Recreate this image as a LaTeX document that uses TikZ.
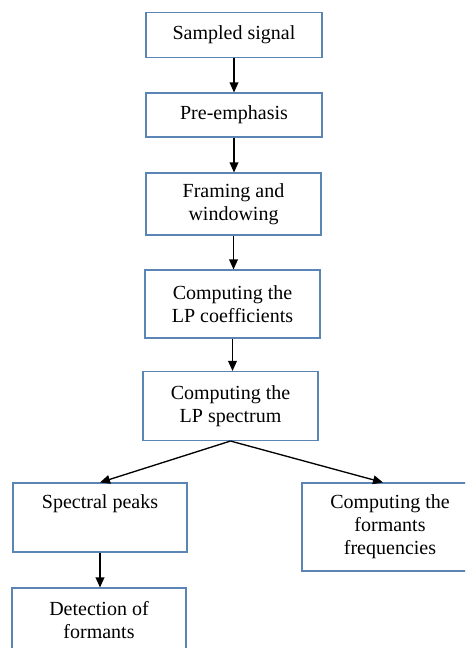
\documentclass[tikz,border=0pt]{standalone}
\usepackage{fontspec}
\setmainfont{Liberation Serif}
\usetikzlibrary{arrows.meta,calc}
\definecolor{boxblue}{HTML}{5B85B5}
\begin{document}
\begin{tikzpicture}[x=0.75pt,y=-0.75pt,
  box/.style={draw=boxblue,line width=0.8pt,rectangle,inner sep=0pt,align=center,
    font=\fontsize{15}{17.2}\selectfont},
  txt/.style={inner sep=0pt,align=center,font=\fontsize{15}{17.2}\selectfont},
  arr/.style={draw=black,line width=1pt,-{Triangle[length=7.5pt,width=6.5pt]}}]
\useasboundingbox (0,0) rectangle (465,648);
\clip (0,0) rectangle (465,648);
\node[box,minimum width=132pt,minimum height=33.75pt] (b1) at (234,35) {Sampled signal};
\node[box,minimum width=132pt,minimum height=33pt] (b2) at (234,115) {Pre-emphasis};
\node[box,minimum width=131.25pt,minimum height=46.5pt] (b3) at (233.5,204) {Framing and\\windowing};
\node[box,minimum width=131.25pt,minimum height=51pt] (b4) at (232.5,304) {Computing the\\LP coefficients};
\node[box,minimum width=131.25pt,minimum height=51.75pt] (b5) at (230.5,406) {Computing the\\LP spectrum};
\node[box,minimum width=130.5pt,minimum height=51.75pt] (b6) at (100,517.5) {};
\node[txt] (t6) at (100,504) {Spectral peaks};
\node[box,minimum width=132pt,minimum height=66pt] (b7) at (390,527) {Computing the\\formants\\frequencies};
\node[box,minimum width=130.5pt,minimum height=61.5pt] (b8) at (99,629) {};
\node[txt] (t8) at (99,620) {Detection of\\formants};
\coordinate (b7in) at ($(b7.north)+(-7,0)$);
\draw[arr] (b1.south) -- (b1.south |- b2.north);
\draw[arr] (b2.south) -- (b2.south |- b3.north);
\draw[arr] (b3.south) -- (b3.south |- b4.north);
\draw[arr] (b4.south) -- (b4.south |- b5.north);
\draw[arr] (b5.south) -- (b6.north);
\draw[arr] (b5.south) -- (b7in);
\draw[arr] (b6.south) -- (b6.south |- b8.north);
\end{tikzpicture}
\end{document}
